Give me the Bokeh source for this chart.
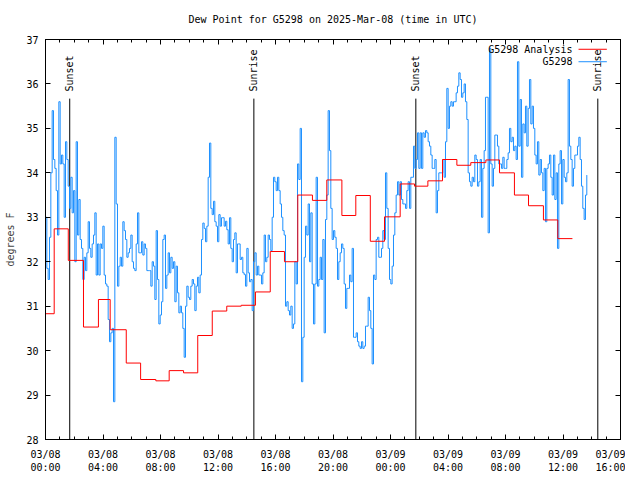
import numpy as np
from bokeh.plotting import figure
from bokeh.models import Range1d, FixedTicker, LinearAxis
from bokeh.core.properties import value
from bokeh.embed import file_html
from bokeh.resources import INLINE

FONT = "DejaVu Sans Mono"
title = "Dew Point for G5298 on 2025-Mar-08 (time in UTC)"
y_label = "degrees F"

# x axis: hours since 2025-03-08 00:00 UTC
tick_hours = [0, 4, 8, 12, 16, 20, 24, 28, 32, 36, 40]
tick_labels = ["03/08\n00:00", "03/08\n04:00", "03/08\n08:00", "03/08\n12:00",
               "03/08\n16:00", "03/08\n20:00", "03/09\n00:00", "03/09\n04:00",
               "03/09\n08:00", "03/09\n12:00", "03/09\n16:00"]
minor_hours = list(range(0, 41))
y_ticks = [28, 29, 30, 31, 32, 33, 34, 35, 36, 37]

# Analysis (step starts, hours) and values
an_t = [0.0, 0.605, 1.584, 2.643, 3.682, 4.499, 5.618, 6.617, 7.676, 8.604, 9.603,
        10.591, 11.6, 12.609, 13.617, 14.606, 15.635, 16.623, 17.551, 18.570,
        19.569, 20.618, 21.586, 22.595, 23.583, 24.673, 25.671, 26.599, 27.618,
        28.617, 29.585, 30.634, 31.582, 32.621, 33.600, 34.639, 35.637, 36.656]
an_v = [30.83, 32.74, 32.03, 30.53, 31.15, 30.47, 29.72, 29.35, 29.32, 29.55, 29.5,
        30.34, 30.89, 31.0, 31.02, 31.32, 32.23, 32.0, 33.5, 33.38, 33.84, 33.04,
        33.49, 32.46, 33.01, 33.75, 33.7, 33.82, 34.3, 34.17, 34.23, 34.29, 34.0,
        33.5, 33.26, 32.94, 32.52, 32.52]

# Station observations, regular interval (minutes)
obs_interval_min = 5.565
obs_v = [
    33.0, 31.85, 31.6, 32.55, 34.0, 35.4, 34.3, 34.1, 33.6, 32.6,
    35.6, 34.2, 34.4, 34.2, 33.0, 34.7, 34.3, 33.7, 33.2, 33.9,
    33.1, 33.6, 32.0, 34.7, 32.6, 33.4, 32.5, 32.3, 31.6, 32.1,
    31.8, 32.2, 32.9, 32.3, 32.1, 32.4, 32.6, 33.1, 31.7, 32.4,
    31.7, 32.4, 32.3, 32.8, 31.7, 31.5, 31.45, 30.7, 30.2, 30.4,
    30.5, 28.85, 34.8, 33.3, 31.45, 31.9, 32.1, 31.9, 32.9, 32.7,
    32.5, 32.1, 32.2, 32.3, 32.6, 32.0, 31.85, 31.8, 32.4, 33.1,
    32.2, 32.2, 32.45, 32.15, 32.4, 32.3, 31.8,
    31.8, 31.8, 31.45, 32.0, 31.9, 31.15, 32.7, 31.6, 30.6, 30.8,
    31.1, 32.5, 32.6, 31.4, 31.7, 32.2, 31.75, 32.1, 31.85, 32.0,
    31.1, 31.9, 31.3, 30.85, 31.0, 30.85, 30.5, 29.85, 31.0, 31.45,
    31.2, 31.15, 31.45, 31.6, 31.5, 30.9, 31.45, 31.65, 31.3, 31.7,
    32.5, 32.87, 32.75, 32.45, 32.8, 33.9, 34.67, 33.2, 33.06, 33.36,
    32.9, 32.8, 32.45, 33.06, 32.8, 32.99, 32.99, 32.8, 32.91, 32.72,
    32.4, 32.99, 32.3, 32.0, 32.5, 32.65, 31.75, 32.4, 32.4, 32.05,
    32.1, 31.75, 31.71, 31.45, 32.3,
    31.75, 31.55, 31.6, 30.9, 32.0, 32.2, 31.7, 31.9, 31.7, 31.7,
    31.5, 31.75, 32.6, 32.0, 32.1, 32.6, 32.5, 32.25, 33.0, 33.9,
    33.8, 33.6, 33.9, 33.6, 33.3, 33.0, 32.7, 32.6, 31.0, 31.1,
    30.9, 30.8, 31.0, 30.5, 30.6, 32.0, 31.5, 34.2, 33.85,
    35.0, 29.3,
    30.3, 32.1, 32.8, 32.6, 33.3, 32.0, 33.1, 31.5, 30.6, 31.5,
    33.9, 31.45, 31.6, 32.1, 31.6, 32.5, 30.4, 32.95, 33.5, 35.4,
    34.5, 33.2, 32.5, 32.7, 32.55, 32.3, 31.6, 32.0, 32.2, 32.4,
    32.3, 31.5, 30.95, 31.4,
    31.4, 31.7, 31.55, 32.3, 30.3, 30.3, 30.4, 30.2, 30.1, 30.05,
    30.2, 30.05, 30.1, 30.55, 30.55, 31.2, 30.9, 30.5, 29.7, 31.7,
    31.6, 32.5, 32.55, 32.1, 32.1, 32.3, 32.7, 32.5, 34.0, 33.2,
    32.3, 31.6, 31.5, 31.9, 32.6, 33.1, 33.5, 33.8, 33.5, 33.8,
    33.4, 33.3, 33.3, 33.2, 33.6, 33.8, 33.2, 33.9, 33.9, 34.6,
    34.1, 34.3, 34.9, 34.1, 34.9, 34.1, 34.9, 34.8, 34.95, 34.9,
    34.7, 34.6, 34.4, 34.1, 34.1, 34.3, 33.1, 33.6, 34.0, 34.0,
    34.0, 34.3, 33.9, 34.7, 35.9,
    35.0, 35.5, 35.6, 35.5, 35.6, 35.6, 35.8, 35.95, 36.25, 36.1,
    35.7, 35.8, 36.0, 35.6, 35.2, 34.0, 33.8, 33.7, 33.9, 33.8,
    34.4, 34.3, 33.7, 33.8, 34.3, 33.0, 34.1, 34.5, 35.7, 35.7,
    32.65, 36.8, 34.2, 33.7, 34.1, 34.85, 34.85, 34.6, 34.2, 34.2,
    34.1, 34.35, 34.1, 34.1, 34.3, 34.45, 35.0, 34.7, 34.8, 34.5,
    34.6, 34.3, 36.5, 34.6, 35.65, 33.9, 35.1, 34.9, 35.5, 34.6,
    35.45, 36.1, 35.1, 35.5, 35.0, 34.4, 34.2, 34.7, 33.95, 34.3,
    34.0, 33.6, 34.1, 32.9, 34.1,
    34.2, 34.4, 33.9, 33.5, 34.4, 33.4, 34.0, 32.3, 34.2, 34.5,
    33.3, 34.3, 33.9, 33.8, 34.0, 36.1, 34.6, 34.3, 33.7, 34.1,
    34.4, 34.4, 34.6, 34.8, 34.3, 33.7, 33.2, 32.95, 33.5, 33.95,
]
obs_t = np.arange(len(obs_v)) * obs_interval_min / 60.0

# Sun events (hours)
sun_h = [1.685, 14.495, 25.762, 38.421]
sun_names = ["Sunset", "Sunrise", "Sunset", "Sunrise"]
sun_line_top = 35.67
sun_text_y = 35.83

legend_names = ["G5298 Analysis", "G5298"]
legend_colors = ["#ff0000", "#1e90ff"]
legend_y = [36.78, 36.5]
legend_text_x = 36.66
legend_line_x0 = 37.08
legend_line_x1 = 39.05

p = figure(frame_width=575, frame_height=400, output_backend="svg",
           toolbar_location=None,
           x_range=Range1d(0, 40), y_range=Range1d(28, 37),
           min_border_left=45, min_border_right=5, min_border_top=39,
           min_border_bottom=30)
p.background_fill_color = "white"
p.border_fill_color = "white"
p.outline_line_color = "black"
p.outline_line_width = 1
p.grid.visible = False

def style_axis(ax):
    ax.axis_line_color = "black"
    ax.major_tick_line_color = "black"
    ax.minor_tick_line_color = "black"
    ax.major_tick_in = 5
    ax.major_tick_out = 0
    ax.minor_tick_in = 3
    ax.minor_tick_out = 0
    ax.major_label_text_font = FONT
    ax.major_label_text_font_size = "10px"
    ax.major_label_text_color = "black"

xax = p.xaxis[0]
xax.ticker = FixedTicker(ticks=tick_hours, minor_ticks=minor_hours)
xax.major_label_overrides = {h: lab for h, lab in zip(tick_hours, tick_labels)}
style_axis(xax)
xax.major_label_standoff = 9

yax = p.yaxis[0]
yax.ticker = FixedTicker(ticks=y_ticks, minor_ticks=[])
style_axis(yax)
yax.major_label_standoff = 7
yax.axis_label = y_label
yax.axis_label_text_font = FONT
yax.axis_label_text_font_size = "10px"
yax.axis_label_text_font_style = "normal"
yax.axis_label_standoff = 7

# top axis carries the mirrored ticks and the chart title
top_ax = LinearAxis(ticker=FixedTicker(ticks=tick_hours, minor_ticks=minor_hours))
style_axis(top_ax)
top_ax.major_label_overrides = {h: "" for h in tick_hours}
top_ax.major_label_standoff = 0
top_ax.axis_label = title
top_ax.axis_label_text_font = FONT
top_ax.axis_label_text_font_size = "10px"
top_ax.axis_label_text_font_style = "normal"
top_ax.axis_label_text_color = "black"
top_ax.axis_label_standoff = 15
p.add_layout(top_ax, "above")
right_ax = LinearAxis(ticker=FixedTicker(ticks=y_ticks, minor_ticks=[]))
style_axis(right_ax)
right_ax.major_label_overrides = {t: "" for t in y_ticks}
right_ax.major_label_standoff = 0
p.add_layout(right_ax, "right")

# sun lines
p.segment(x0=sun_h, y0=[28] * len(sun_h), x1=sun_h, y1=[sun_line_top] * len(sun_h),
          line_color="black", line_width=1)
p.text(x=sun_h, y=[sun_text_y] * len(sun_h), text=sun_names, angle=np.pi / 2,
       text_font=value(FONT), text_font_size="10px", text_align="left",
       text_baseline="middle", text_color="black")

# data
p.step(x=list(obs_t), y=obs_v, mode="after", line_color="#1e90ff", line_width=1)
p.step(x=an_t, y=an_v, mode="after", line_color="#ff0000", line_width=1)

# legend
p.text(x=[legend_text_x] * 2, y=legend_y, text=legend_names, text_font=value(FONT),
       text_font_size="10px", text_align="right", text_baseline="middle",
       text_color="black")
p.segment(x0=[legend_line_x0] * 2, y0=legend_y, x1=[legend_line_x1] * 2, y1=legend_y,
          line_color=legend_colors, line_width=1)

open("out.html", "w").write(file_html(p, INLINE))
